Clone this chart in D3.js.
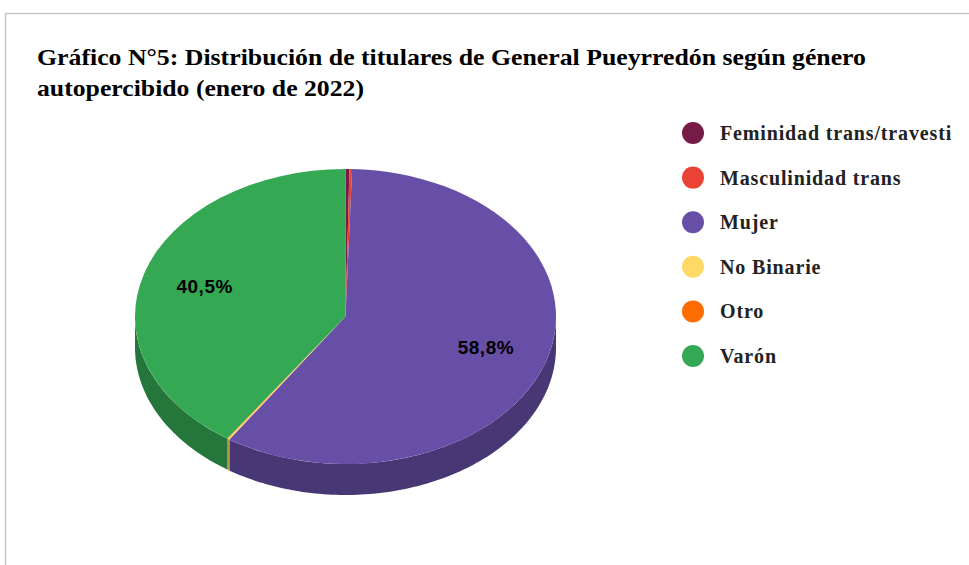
<!DOCTYPE html>
<html lang="es">
<head>
  <meta charset="UTF-8">
  <title>Gráfico N°5</title>
  <style>
    body { margin: 0; background: #fff; }
  </style>
</head>
<body>
  <svg id="svg" width="969" height="565"></svg>

  <script src="https://d3js.org/d3.v7.min.js"></script>
  <script>
    const categories = ['Feminidad trans/travesti', 'Masculinidad trans', 'Mujer', 'No Binarie', 'Otro', 'Varón']
    const values = [0.3, 0.2, 58.8, 0.15, 0.05, 40.5]
    const colors = ['#761c46', '#ea4335', '#674ea7', '#ffd966', '#ff6d01', '#34a853']
    const titleLines = ['Gráfico N°5: Distribución de titulares de General Pueyrredón según género', 'autopercibido (enero de 2022)']

    const svg = d3.select('#svg')

    // chart frame (only top and left edges are in view)
    svg.append('rect')
      .attr('x', 5.5).attr('y', 13.5)
      .attr('width', 1000).attr('height', 600)
      .attr('fill', 'none')
      .attr('stroke', '#c6c6c6')
      .attr('stroke-width', 1.5)

    // title is drawn a bit wider than the font's natural width, as in the original
    const titleWidths = [829, 327]
    svg.selectAll('.title')
      .data(titleLines)
      .enter()
      .append('text')
      .attr('class', 'title')
      .attr('x', 37)
      .attr('y', (d, i) => 65 + i * 31)
      .attr('textLength', (d, i) => titleWidths[i])
      .attr('lengthAdjust', 'spacingAndGlyphs')
      .style('font-family', '"Liberation Serif", "Times New Roman", serif')
      .style('font-weight', 'bold')
      .style('font-size', '23px')
      .attr('fill', '#000')
      .text(d => d)

    // pie geometry
    const cx = 345.5, cy = 316.5, rx = 210.5, ry = 147.5, depth = 31

    const pie = d3.pie().sort(null).value(d => d.value)
    const arcs = pie(categories.map((c, i) => ({ name: c, value: values[i], color: colors[i] })))

    const pt = (a, dy) => [cx + rx * Math.sin(a), cy - ry * Math.cos(a) + dy]

    // side walls: only the part of each slice that faces the viewer
    const sidePath = d => {
      const s = Math.max(d.startAngle, Math.PI / 2)
      const e = Math.min(d.endAngle, 3 * Math.PI / 2)
      if (s >= e) return null
      const n = Math.max(2, Math.ceil((e - s) / 0.02))
      const angles = d3.range(n + 1).map(k => s + (e - s) * k / n)
      const top = angles.map(a => pt(a, 0))
      const bottom = angles.slice().reverse().map(a => pt(a, depth))
      return d3.line()(top.concat(bottom)) + 'Z'
    }

    svg.append('g')
      .selectAll('path')
      .data(arcs.filter(d => sidePath(d)))
      .enter()
      .append('path')
      .attr('d', sidePath)
      .attr('fill', d => d3.color(d.data.color).darker(1))

    const arc = d3.arc().innerRadius(0).outerRadius(rx)

    svg.append('g')
      .attr('transform', `translate(${cx},${cy}) scale(1,${ry / rx})`)
      .selectAll('path')
      .data(arcs)
      .enter()
      .append('path')
      .attr('d', arc)
      .attr('fill', d => d.data.color)

    // percent labels at 70% of the radius
    const fmt = v => v.toFixed(1).replace('.', ',') + '%'
    svg.append('g')
      .selectAll('text')
      .data(arcs.filter(d => d.data.value > 5))
      .enter()
      .append('text')
      .attr('x', d => cx + 0.7 * rx * Math.sin((d.startAngle + d.endAngle) / 2))
      .attr('y', d => cy - 0.7 * ry * Math.cos((d.startAngle + d.endAngle) / 2))
      .attr('dy', '0.35em')
      .attr('text-anchor', 'middle')
      .style('font-family', '"Liberation Sans", Arial, sans-serif')
      .style('font-weight', 'bold')
      .style('font-size', '19px')
      .style('letter-spacing', '0.5px')
      .attr('fill', '#000')
      .text(d => fmt(d.data.value))

    // legend
    const legend = svg.append('g')
      .selectAll('g')
      .data(categories)
      .enter()
      .append('g')
      .attr('transform', (d, i) => `translate(693,${133 + i * 44.6})`)

    legend.append('circle')
      .attr('r', 11)
      .attr('fill', (d, i) => colors[i])

    legend.append('text')
      .attr('x', 27)
      .attr('dy', '0.35em')
      .style('font-family', '"Liberation Serif", "Times New Roman", serif')
      .style('font-weight', 'bold')
      .style('font-size', '20px')
      .style('letter-spacing', '0.85px')
      .attr('fill', '#222')
      .text(d => d)
  </script>
</body>
</html>
